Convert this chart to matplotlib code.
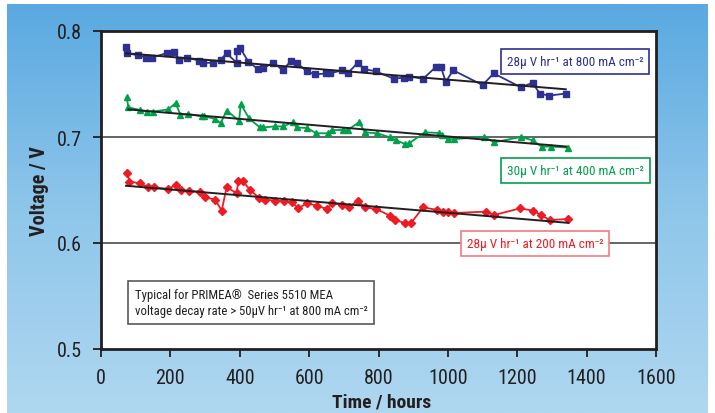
import numpy as np
import matplotlib.pyplot as plt
from matplotlib import font_manager
from matplotlib.colors import LinearSegmentedColormap

# ---- data ----
hours_800 = [72, 76, 108, 130, 146, 189, 210, 226, 247, 283, 295, 324, 345, 362, 391, 391, 401,
             425, 453, 468, 497, 524, 548, 564, 593, 617, 648, 660, 696, 711, 740, 759, 792,
             844, 873, 888, 929, 965, 980, 994, 1015, 1100, 1132, 1210, 1244, 1265, 1291, 1340]
volts_800 = [0.785, 0.779, 0.777, 0.775, 0.775, 0.779, 0.780, 0.773, 0.775, 0.772, 0.770, 0.770,
             0.773, 0.779, 0.770, 0.781, 0.784, 0.771, 0.764, 0.765, 0.770, 0.763, 0.772, 0.770,
             0.762, 0.759, 0.760, 0.760, 0.763, 0.760, 0.770, 0.764, 0.762, 0.755, 0.756, 0.757,
             0.755, 0.766, 0.766, 0.752, 0.763, 0.749, 0.760, 0.747, 0.751, 0.741, 0.739, 0.741]

hours_400 = [74, 79, 112, 133, 149, 194, 215, 229, 252, 290, 298, 329, 345, 362, 398, 403, 427,
             458, 468, 501, 525, 554, 564, 595, 620, 655, 665, 698, 711, 744, 761, 796, 833,
             850, 876, 888, 934, 975, 982, 999, 1017, 1105, 1133, 1210, 1244, 1270, 1296, 1347]
volts_400 = [0.7375, 0.728, 0.7255, 0.724, 0.724, 0.726, 0.732, 0.721, 0.7217, 0.7195, 0.7195,
             0.717, 0.713, 0.725, 0.7154, 0.731, 0.7176, 0.709, 0.709, 0.710, 0.710, 0.714, 0.709,
             0.7085, 0.7035, 0.7035, 0.7066, 0.7066, 0.7066, 0.714, 0.7044, 0.7035, 0.6997,
             0.6972, 0.6934, 0.694, 0.7044, 0.7038, 0.702, 0.698, 0.698, 0.700, 0.695, 0.700,
             0.697, 0.691, 0.691, 0.690]

hours_200 = [76, 82, 112, 136, 153, 194, 216, 232, 254, 285, 300, 329, 348, 362, 391, 396, 408,
             429, 456, 473, 501, 527, 550, 569, 593, 622, 652, 667, 696, 716, 740, 761, 794, 833,
             847, 876, 893, 929, 970, 985, 999, 1017, 1109, 1133, 1209, 1246, 1268, 1294, 1345]
volts_200 = [0.6658, 0.658, 0.6563, 0.6525, 0.6525, 0.651, 0.655, 0.650, 0.6488, 0.6484, 0.643,
             0.641, 0.6305, 0.6525, 0.6472, 0.6588, 0.6588, 0.6503, 0.6425, 0.641, 0.640, 0.6393,
             0.6384, 0.6327, 0.6375, 0.6352, 0.632, 0.6375, 0.636, 0.6342, 0.640, 0.6337, 0.632,
             0.6258, 0.622, 0.6186, 0.6186, 0.6337, 0.6311, 0.6296, 0.629, 0.6283, 0.6296, 0.6264,
             0.6327, 0.6305, 0.6264, 0.6217, 0.6226]

# linear fit lines (hours, volts at both ends)
fit_800 = ([72, 1340], [0.779, 0.745])
fit_400 = ([79, 1342], [0.726, 0.691])
fit_200 = ([72, 1347], [0.654, 0.619])

labels = ["28\u00b5 V hr\u207b\u00b9 at 800 mA cm\u207b\u00b2",
          "30\u00b5 V hr\u207b\u00b9 at 400 mA cm\u207b\u00b2",
          "28\u00b5 V hr\u207b\u00b9 at 200 mA cm\u207b\u00b2"]
note = ("Typical for PRIMEA\u00ae  Series 5510 MEA\n"
        "voltage decay rate > 50\u00b5V hr\u207b\u00b9 at 800 mA cm\u207b\u00b2")

x_ticks = [0, 200, 400, 600, 800, 1000, 1200, 1400, 1600]
y_ticks = [0.5, 0.6, 0.7, 0.8]

blue = "#2e3192"
green = "#00a14b"
red = "#ed1c24"
ink = "#231f20"

# pick a narrow face if one is installed, the original uses a condensed font
installed = {f.name for f in font_manager.fontManager.ttflist}
narrow = None
for cand in ["Liberation Sans Narrow", "Roboto Condensed", "DejaVu Sans Condensed",
             "Open Sans Condensed"]:
    if cand in installed:
        narrow = cand
        break
if narrow:
    plt.rcParams['font.family'] = [narrow, 'DejaVu Sans']
    scale = 1.0
else:
    plt.rcParams['font.family'] = ['DejaVu Sans']
    plt.rcParams['font.stretch'] = 'condensed'
    scale = 0.85

fig = plt.figure(figsize=(7.15, 4.14), dpi=100)
fig.patch.set_facecolor("white")

# blue gradient backdrop
bg = fig.add_axes([7 / 715, 0, 701 / 715, 409 / 414], zorder=0)
cmap = LinearSegmentedColormap.from_list("bg", ["#5aa9e1", "#8ec6ea", "#afd7f0"])
bg.imshow(np.linspace(0, 1, 256).reshape(-1, 1), aspect="auto", cmap=cmap,
          extent=[0, 1, 0, 1], origin="upper")
bg.axis("off")

ax = fig.add_axes([101 / 715, 64 / 414, 555 / 715, 318 / 414], zorder=1)
ax.set_facecolor("white")

ax.axhline(0.6, color="#58595b", lw=1.3, zorder=1)
ax.axhline(0.7, color="#58595b", lw=1.3, zorder=1)

ax.plot(hours_800, volts_800, color=blue, marker="s", ms=4.5, lw=1.3, zorder=3)
ax.plot(hours_400, volts_400, color=green, marker="^", ms=5, lw=1.3, zorder=3)
ax.plot(hours_200, volts_200, color=red, marker="D", ms=4, lw=1.3, zorder=3)

for fx, fy in (fit_800, fit_400, fit_200):
    ax.plot(fx, fy, color=ink, lw=1.4, zorder=4)

ax.set_xlim(0, 1600)
ax.set_ylim(0.5, 0.8)
ax.set_xticks(x_ticks)
ax.set_yticks(y_ticks)
ax.set_yticklabels([f"{v:.1f}" for v in y_ticks])
ax.tick_params(axis="both", direction="out", length=6, width=1.3, color=ink,
               labelsize=14.5 * scale, labelcolor=ink)
ax.tick_params(axis="x", pad=8)
ax.tick_params(axis="y", pad=8)
for s in ax.spines.values():
    s.set_color(ink)
    s.set_linewidth(2)

ax.set_xlabel("Time / hours", fontsize=14 * scale, fontweight="bold", color=ink)
ax.set_ylabel("Voltage / V", fontsize=14.5 * scale, fontweight="bold", color=ink)
ax.xaxis.set_label_coords(0.505, -0.138)
ax.yaxis.set_label_coords(-0.093, 0.5)

box_kw = dict(boxstyle="square,pad=0.45", facecolor="white", lw=1.2)
fs = 9.5 * scale
ax.text(1366, 0.7712, labels[0], color=blue, fontsize=fs, ha="center", va="center",
        bbox=dict(edgecolor=blue, **box_kw), zorder=5)
ax.text(1368, 0.668, labels[1], color=green, fontsize=fs, ha="center", va="center",
        bbox=dict(edgecolor=green, **box_kw), zorder=5)
ax.text(1251, 0.5995, labels[2], color=red, fontsize=fs, ha="center", va="center",
        bbox=dict(edgecolor="#f47b7f", **box_kw), zorder=5)
ax.text(97, 0.5435, note, color=ink, fontsize=9.2 * scale, ha="left", va="center",
        linespacing=1.3,
        bbox=dict(boxstyle="square,pad=0.55", facecolor="white", edgecolor="#58595b", lw=1.2),
        zorder=5)

fig.savefig("out.png", dpi=100)
